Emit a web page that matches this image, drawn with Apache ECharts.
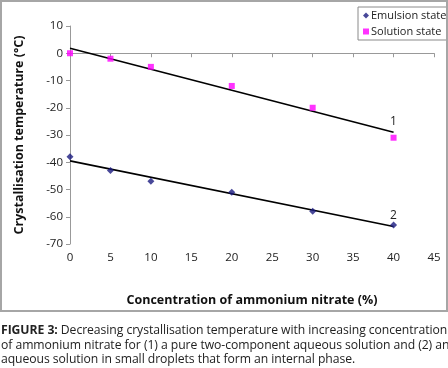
<!DOCTYPE html>
<html>
<head>
<meta charset="utf-8">
<script src="https://cdn.jsdelivr.net/npm/echarts@6/dist/echarts.min.js"></script>
<style>
  html, body { margin: 0; padding: 0; background: #fff; }
  #wrap { position: relative; width: 448px; height: 368px; overflow: hidden; }
  #chart { position: absolute; left: 0; top: 0; width: 448px; height: 312px; }
  #frame { position: absolute; left: 0; top: 0; width: 444px; height: 308px; border: 2px solid #a6a6a6; pointer-events: none; }
  #caption {
    position: absolute; left: 1px; top: 323px; width: 460px; white-space: nowrap;
    font-family: "Open Sans", sans-serif; font-size: 12.2px; line-height: 14.5px;
    color: #222; letter-spacing: -0.06px;
  }
</style>
</head>
<body>
<div id="wrap">
  <div id="chart"></div>
  <div id="frame"></div>
  <div id="caption"><b>FIGURE 3:</b> Decreasing crystallisation temperature with increasing concentration<br>of ammonium nitrate for (1) a pure two-component aqueous solution and (2) an<br>aqueous solution in small droplets that form an internal phase.</div>
</div>
<script>
// concentration of ammonium nitrate (%)
const concentration = [0, 5, 10, 20, 30, 40];
// crystallisation temperature (°C)
const emulsionState = [-38, -43, -47, -51, -58, -63];
const solutionState = [0, -2, -5, -12, -20, -31];
// trend line ends, at x = 0 and x = 40
const trendX = [0, 40];
const trend1 = [1.8, -29];
const trend2 = [-39.5, -63.6];

const font = "Open Sans";

function pairs(xs, ys) {
  return xs.map((x, i) => [x, ys[i]]);
}

function trendSeries(name, ys, tag) {
  const last = trendX.length - 1;
  return {
    name: name,
    type: "line",
    symbol: "none",
    lineStyle: { color: "#000", width: 1.6 },
    data: pairs(trendX, ys),
    z: 2,
    markPoint: {
      symbol: "circle",
      symbolSize: 0,
      silent: true,
      label: {
        show: true, position: "top", distance: 5, formatter: tag,
        color: "#222", fontFamily: font, fontSize: 12,
      },
      data: [{ coord: [trendX[last], ys[last]] }],
    },
  };
}

const myChart = echarts.init(document.getElementById("chart"));
const option = {
  animation: false,
  grid: { left: 70, right: 14, top: 26, bottom: 67 },
  legend: {
    orient: "vertical",
    left: 358,
    top: 7,
    padding: [3, 10, 3, 5],
    borderColor: "#8a8a8a",
    borderWidth: 1,
    itemWidth: 6,
    itemHeight: 6,
    itemGap: 5,
    textStyle: { fontFamily: font, fontSize: 11, color: "#222", padding: [0, 0, 0, -3] },
    data: [
      { name: "Emulsion state", icon: "diamond" },
      { name: "Solution state", icon: "rect" },
    ],
  },
  xAxis: {
    type: "value",
    min: 0,
    max: 45,
    interval: 5,
    name: "Concentration of ammonium nitrate (%)",
    nameLocation: "middle",
    nameGap: 50,
    nameTextStyle: { fontFamily: font, fontSize: 12.5, fontWeight: "bold", color: "#111" },
    axisLine: { lineStyle: { color: "#999" } },
    axisTick: { show: true, length: 4, lineStyle: { color: "#999" } },
    axisLabel: { fontFamily: font, fontSize: 11.5, color: "#222", margin: 8 },
    splitLine: { show: false },
  },
  yAxis: {
    type: "value",
    min: -70,
    max: 10,
    interval: 10,
    name: "Crystallisation temperature (°C)",
    nameLocation: "middle",
    nameGap: 44,
    nameTextStyle: { fontFamily: font, fontSize: 12.5, fontWeight: "bold", color: "#111" },
    axisLine: { show: true, lineStyle: { color: "#999" } },
    axisTick: { show: true, length: 4, lineStyle: { color: "#999" } },
    axisLabel: { fontFamily: font, fontSize: 11.5, color: "#222", margin: 7 },
    splitLine: { show: false },
  },
  series: [
    {
      name: "Emulsion state",
      type: "scatter",
      symbol: "diamond",
      symbolSize: 7,
      itemStyle: { color: "#1a1a80" },
      data: pairs(concentration, emulsionState),
      z: 3,
    },
    {
      name: "Solution state",
      type: "scatter",
      symbol: "rect",
      symbolSize: 6,
      itemStyle: { color: "#ff00ff" },
      data: pairs(concentration, solutionState),
      z: 3,
    },
    trendSeries("trend 1", trend1, "1"),
    trendSeries("trend 2", trend2, "2"),
  ],
};
myChart.setOption(option);
</script>
</body>
</html>
